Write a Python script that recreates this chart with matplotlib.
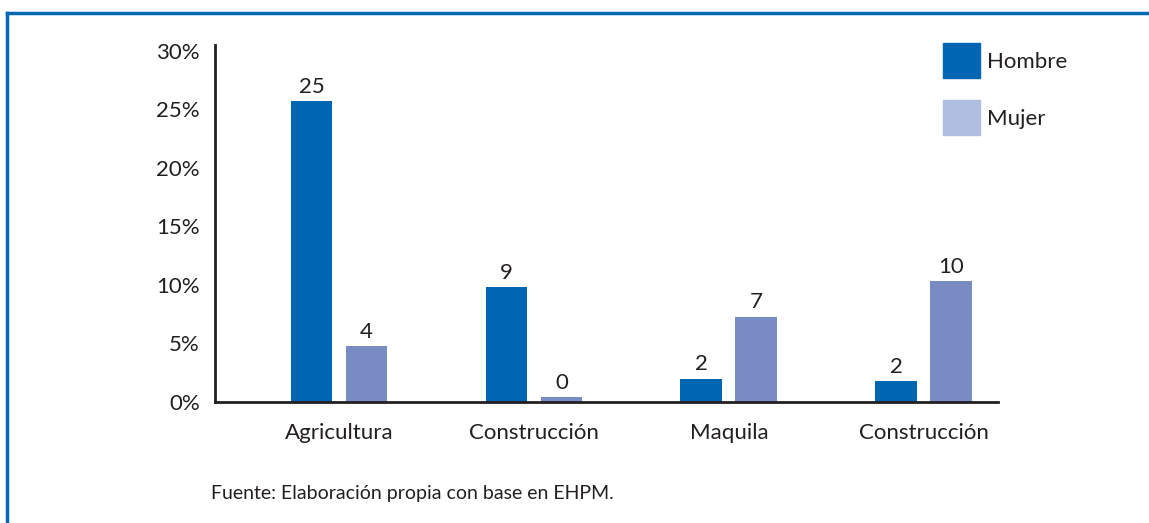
import matplotlib.pyplot as plt
import numpy as np
from matplotlib.patches import Patch
from matplotlib.lines import Line2D

sectores = ["Agricultura", "Construcción", "Maquila", "Construcción"]
hombre = [25.7, 9.8, 2.0, 1.8]
mujer = [4.8, 0.4, 7.3, 10.3]
hombre_etq = ["25", "9", "2", "2"]
mujer_etq = ["4", "0", "7", "10"]
yticks = [0, 5, 10, 15, 20, 25, 30]

AZUL = "#0066b3"
LILA = "#788bc3"
LILA_LEY = "#b0bedf"
TXT = "#231f20"
plt.rcParams["font.family"] = ["Lato", "DejaVu Sans"]

fig = plt.figure(figsize=(11.49, 5.23), dpi=100)
ax = fig.add_axes([215 / 1149, 1 - 402 / 523, 783 / 1149, 357 / 523])

x = np.arange(len(sectores))
w = 0.215
off = 0.141
b1 = ax.bar(x - off, hombre, w, color=AZUL)
b2 = ax.bar(x + off, mujer, w, color=LILA)

for bars, etq in [(b1, hombre_etq), (b2, mujer_etq)]:
    for r, t in zip(bars, etq):
        ax.annotate(t, (r.get_x() + r.get_width() / 2, r.get_height()),
                    xytext=(0, 3), textcoords="offset points",
                    ha="center", va="bottom", fontsize=16, color=TXT)

ax.set_xlim(-0.636, 3.38)
ax.set_ylim(0, 30.5)
ax.set_xticks(x)
ax.set_xticklabels(sectores, fontsize=16, color=TXT)
ax.set_yticks(yticks)
ax.set_yticklabels([f"{v}%" for v in yticks], fontsize=16, color=TXT)
ax.tick_params(length=0)
ax.tick_params(axis="x", pad=15)
ax.tick_params(axis="y", pad=11)
for s in ["top", "right"]:
    ax.spines[s].set_visible(False)
for s in ["left", "bottom"]:
    ax.spines[s].set_linewidth(2)
    ax.spines[s].set_color(TXT)

handles = [Patch(color=AZUL), Patch(color=LILA_LEY)]
fig.legend(handles, ["Hombre", "Mujer"], loc="upper left",
           bbox_to_anchor=(943 / 1149, 1 - 43 / 523), frameon=False,
           fontsize=16, handlelength=1.65, handleheight=2.05,
           handletextpad=0.35, labelspacing=1.0, borderpad=0, borderaxespad=0,
           labelcolor=TXT)

fig.text(211 / 1149, 1 - 493 / 523, "Fuente: Elaboración propia con base en EHPM.",
         fontsize=14, va="center", color=TXT)

# marco azul (borde superior e izquierdo)
fig.lines.append(Line2D([7 / 1149, 1], [1 - 13 / 523, 1 - 13 / 523],
                        transform=fig.transFigure, color="#0068b4", linewidth=2.5))
fig.lines.append(Line2D([7 / 1149, 7 / 1149], [1 - 13 / 523, 0],
                        transform=fig.transFigure, color="#0068b4", linewidth=2.5))

fig.savefig("out.png", dpi=100)
